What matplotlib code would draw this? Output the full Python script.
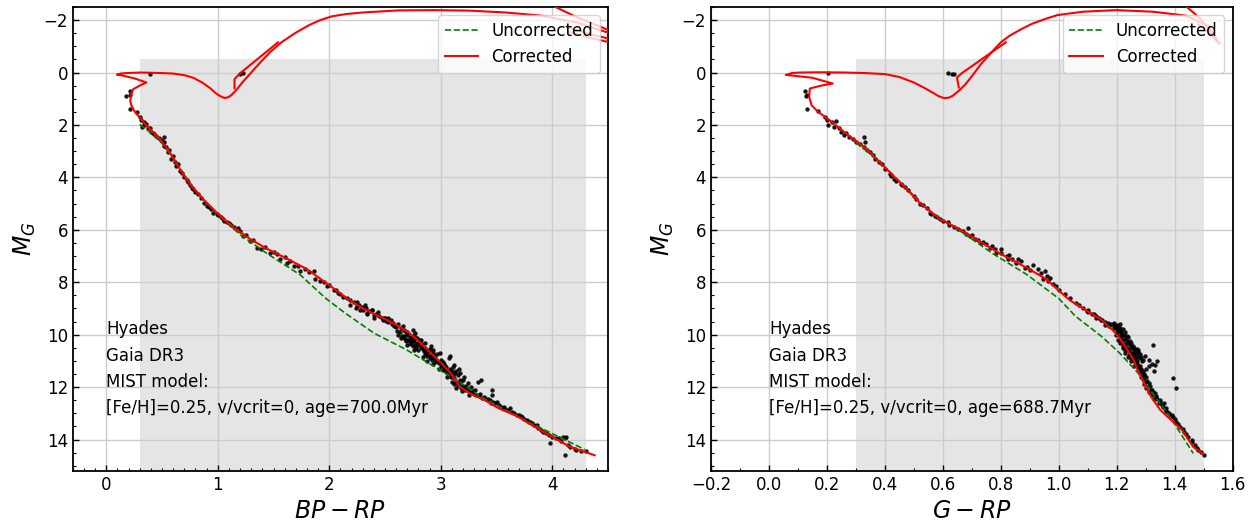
import numpy as np
import matplotlib.pyplot as plt
from matplotlib.ticker import MultipleLocator

# ---------------- left panel: BP-RP ----------------
# corrected isochrone, low mass end -> turnoff -> subgiants -> RGB
bprp_corr_x = [4.38, 4.16, 4.0, 3.84, 3.68, 3.52, 3.39, 3.26, 3.17, 3.1, 3.02, 2.91, 2.82, 2.72,
               2.6, 2.45, 2.3, 2.16, 1.98, 1.8, 1.62, 1.44, 1.29, 1.14, 0.99, 0.87, 0.75, 0.66,
               0.57, 0.48, 0.36, 0.27, 0.245, 0.225, 0.216, 0.22, 0.24, 0.3, 0.36, 0.25, 0.15,
               0.096, 0.13, 0.18, 0.3, 0.39, 0.5, 0.6, 0.7, 0.78, 0.86, 0.93, 0.98, 1.02, 1.06,
               1.09, 1.12, 1.17, 1.22, 1.3, 1.38, 1.47, 1.57, 1.7, 1.82, 1.92, 2.02, 2.15, 2.3,
               2.62, 2.94, 3.26, 3.58, 3.9, 4.22, 4.55]
bprp_corr_y = [14.6, 14.28, 13.9, 13.51, 13.1, 12.81, 12.49, 12.24, 11.98, 11.53, 11.15, 10.7, 10.32, 9.94,
               9.62, 9.3, 9.0, 8.62, 8.05, 7.5, 7.1, 6.72, 6.35, 5.9, 5.34, 4.83, 4.25, 3.68,
               3.04, 2.53, 2.02, 1.57, 1.42, 1.25, 1.1, 0.93, 0.64, 0.5, 0.38, 0.22, 0.12,
               0.08, 0.04, 0.02, 0.0, 0.01, 0.02, 0.04, 0.1, 0.2, 0.38, 0.59, 0.78, 0.9, 0.97,
               0.95, 0.87, 0.65, 0.38, 0.0, -0.38, -0.78, -1.15, -1.52, -1.81, -2.0, -2.14, -2.23, -2.29,
               -2.37, -2.38, -2.36, -2.29, -2.17, -1.91, -1.45]
bprp_clump_x = [1.15, 1.15, 1.2, 1.54]
bprp_clump_y = [0.6, 0.25, 0.03, -1.15]
bprp_agb1_x = [3.98, 4.19, 4.48, 4.55]
bprp_agb1_y = [-2.6, -2.17, -1.66, -1.55]
bprp_agb2_x = [4.12, 4.35, 4.55]
bprp_agb2_y = [-1.75, -1.45, -1.25]
bprp_agb3_x = [4.15, 4.38, 4.55]
bprp_agb3_y = [-1.55, -1.28, -1.12]

bprp_unc_x = [0.3, 0.4, 0.5, 0.6, 0.7, 0.8, 0.9, 1.0, 1.1, 1.2, 1.44, 1.74, 1.97, 2.14, 2.4,
              2.69, 2.94, 3.14, 3.36, 3.58, 3.81, 4.06, 4.29]
bprp_unc_y = [1.98, 2.3, 2.7, 3.25, 3.95, 4.5, 4.98, 5.4, 5.8, 6.18, 6.9, 7.72, 8.62, 9.17, 9.94,
              10.57, 11.21, 11.72, 12.36, 12.87, 13.38, 13.9, 14.38]

bprp_stars = [
    (0.39, 0.04), (1.2, 0.04), (1.23, 0.0), (0.174, 0.91), (0.21, 0.72), (0.216, 0.84),
    (0.216, 1.4), (0.275, 1.51), (0.305, 1.7), (0.31, 1.83), (0.335, 1.89), (0.36, 1.95),
    (0.32, 2.08), (0.39, 2.12), (0.4, 2.25), (0.43, 2.34), (0.49, 2.59), (0.52, 2.47),
    (0.52, 2.66), (0.52, 2.81), (0.55, 3.04), (0.58, 3.3), (0.63, 3.55), (0.66, 3.74),
    (0.7, 4.0), (0.73, 4.19), (0.78, 4.44), (0.8, 4.57), (0.88, 4.96), (0.9, 5.08),
    (0.96, 5.34), (0.99, 5.4), (1.03, 5.53), (1.06, 5.66), (1.08, 5.72), (1.18, 5.95),
    (1.23, 6.23), (1.29, 6.42), (1.35, 6.68), (1.39, 6.74), (1.47, 6.87), (1.56, 7.13),
    (1.62, 7.25), (1.68, 7.38), (1.74, 7.57), (1.86, 7.57), (1.87, 7.89), (1.92, 7.96),
    (1.98, 8.15), (2.04, 8.28), (2.08, 8.4), (2.19, 8.66), (2.25, 8.91), (2.28, 9.04),
    (2.34, 9.17), (2.38, 9.04), (2.49, 9.36), (2.53, 9.36),
    (2.19, 8.85), (2.24, 8.98), (2.3, 9.04), (2.38, 9.04), (2.34, 9.23), (2.4, 9.36),
    (2.48, 9.43), (2.51, 9.49), (2.58, 9.68), (2.61, 9.87), (2.66, 9.68), (2.67, 9.81),
    (2.7, 9.94), (2.75, 9.81), (2.77, 9.94), (2.67, 10.06), (2.69, 10.19), (2.74, 10.26),
    (2.78, 10.13), (2.8, 10.32), (2.75, 10.45), (2.83, 10.51), (2.85, 10.64), (2.88, 10.57),
    (2.91, 10.45), (2.93, 10.7), (2.94, 10.83), (2.96, 10.96), (2.9, 10.89), (2.98, 11.09),
    (3.01, 11.15), (3.04, 11.21), (3.07, 10.89), (3.08, 10.83), (3.02, 11.34), (3.06, 11.47),
    (3.09, 11.6), (3.12, 11.15), (3.14, 11.4), (3.17, 11.72), (3.17, 11.47), (3.2, 11.72),
    (3.1, 11.79), (3.15, 11.92), (3.18, 12.04), (3.22, 12.11), (3.26, 12.17), (3.31, 12.11),
    (3.33, 11.79), (3.36, 11.72), (3.34, 12.3), (3.39, 12.36), (3.44, 12.49), (3.46, 12.11),
    (3.46, 12.3), (3.49, 12.62), (3.55, 12.81), (3.6, 12.87), (3.62, 12.81), (3.68, 13.07),
    (3.73, 13.13), (3.79, 13.32), (3.84, 13.45), (3.9, 13.64), (3.94, 13.77), (3.98, 14.15),
    (4.0, 13.9), (4.06, 13.96), (4.1, 13.9), (4.11, 13.96), (4.12, 13.9), (4.11, 14.6),
    (4.16, 14.28), (4.21, 14.41), (4.26, 14.43),
    (2.22, 8.75), (2.27, 8.85), (2.33, 9.0), (2.36, 9.1), (2.42, 9.2), (2.45, 9.28),
    (2.5, 9.38), (2.55, 9.45), (2.57, 9.55), (2.62, 9.6), (2.64, 9.75), (2.68, 9.85),
    (2.7, 10.0), (2.72, 10.08), (2.73, 10.2), (2.76, 10.18), (2.78, 10.3), (2.8, 10.4),
    (2.82, 10.48), (2.84, 10.55), (2.86, 10.5), (2.87, 10.7), (2.89, 10.62), (2.9, 10.78),
    (2.92, 10.85), (2.95, 10.9), (2.97, 11.0), (2.99, 11.05), (3.0, 11.2), (3.03, 11.3),
    (3.05, 11.25), (3.07, 11.4), (3.08, 11.5), (3.11, 11.55), (3.12, 11.65), (3.14, 11.8),
    (3.16, 11.85), (3.19, 11.95), (3.21, 12.0), (3.24, 12.08), (3.28, 12.2), (3.3, 12.25),
    (3.32, 12.3), (3.37, 12.4), (3.42, 12.45), (3.47, 12.55), (3.52, 12.7), (3.57, 12.75),
    (3.64, 12.95), (3.7, 13.05), (3.75, 13.2), (3.82, 13.38), (3.87, 13.55), (3.92, 13.7),
    (3.97, 13.82), (4.03, 13.95), (4.08, 14.05), (4.14, 14.2), (4.2, 14.35), (4.3, 14.45),
    (2.65, 10.05), (2.66, 10.1), (2.68, 10.15), (2.71, 10.22), (2.74, 10.1), (2.76, 10.02),
    (2.79, 10.12), (2.81, 10.22), (2.83, 10.35), (2.69, 10.25), (2.73, 10.35), (2.77, 10.4),
    (1.1, 5.75), (1.15, 5.9), (1.2, 6.05), (1.25, 6.2), (1.32, 6.4), (1.42, 6.65),
    (1.5, 6.85), (1.53, 6.92), (1.6, 7.05), (1.65, 7.2), (1.72, 7.38), (1.78, 7.48),
    (1.82, 7.6), (1.95, 8.0), (2.0, 8.12), (2.06, 8.3), (2.1, 8.45), (2.12, 8.55), (2.16, 8.62),
    (0.34, 2.0), (0.37, 2.1), (0.42, 2.3), (0.45, 2.42), (0.47, 2.5), (0.5, 2.62),
    (0.54, 2.85), (0.56, 2.95), (0.6, 3.2), (0.62, 3.4), (0.64, 3.5), (0.68, 3.85),
    (0.72, 4.1), (0.75, 4.3), (0.77, 4.4), (0.82, 4.65), (0.85, 4.8), (0.92, 5.12),
    (0.94, 5.2), (1.0, 5.45), (1.05, 5.6), (1.12, 5.8),
    (2.6, 9.7), (2.63, 9.9), (2.7, 9.9), (2.72, 10.3), (2.75, 10.25), (2.78, 10.5),
    (2.8, 10.6), (2.82, 10.2), (2.86, 10.75), (2.88, 10.8), (2.9, 10.55), (2.92, 10.95),
    (2.95, 11.05), (2.97, 10.75), (3.0, 10.95), (3.03, 11.1), (3.05, 11.4), (3.06, 11.6),
    (3.08, 11.3), (3.1, 11.4), (3.12, 11.9), (3.13, 11.45), (3.15, 11.55), (3.18, 11.75),
    (3.2, 12.05), (3.23, 11.95), (3.25, 12.3), (3.27, 12.0), (3.29, 12.15), (3.35, 12.25),
    (3.4, 12.4), (3.45, 12.6), (3.5, 12.55), (3.54, 12.75), (3.58, 12.85), (3.66, 13.0),
    (3.72, 13.1), (3.77, 13.25), (3.8, 13.35), (3.86, 13.45),
    (2.25, 8.75), (2.29, 8.95), (2.32, 8.88), (2.4, 9.25), (2.44, 9.15), (2.47, 9.35),
    (2.53, 9.5), (2.56, 9.6),
    (2.62, 10.0), (2.64, 10.12), (2.7, 10.4), (2.76, 10.6), (2.84, 10.85), (2.88, 11.0),
    (2.93, 11.1), (2.98, 11.3), (3.02, 11.05), (3.11, 11.25), (3.16, 11.3), (3.21, 11.6),
    (3.24, 11.85), (3.19, 12.15), (3.14, 12.05), (2.86, 10.3), (2.93, 10.6), (2.99, 10.7),
]

# ---------------- right panel: G-RP ----------------
grp_corr_x = [1.496, 1.464, 1.445, 1.426, 1.388, 1.35, 1.318, 1.3, 1.274, 1.255, 1.229, 1.21, 1.19,
              1.147, 1.084, 1.04, 1.0, 0.957, 0.889, 0.797, 0.728, 0.659, 0.59, 0.52, 0.452, 0.394,
              0.337, 0.268, 0.21, 0.17, 0.147, 0.139, 0.141, 0.18, 0.22, 0.15, 0.058, 0.08, 0.108,
              0.18, 0.26, 0.33, 0.4, 0.45, 0.5, 0.535, 0.564, 0.585, 0.605, 0.62, 0.634, 0.655,
              0.678, 0.703, 0.73, 0.767, 0.8, 0.83, 0.87, 0.906, 0.95, 0.995, 1.084, 1.198,
              1.324, 1.439, 1.515, 1.555]
grp_corr_y = [14.53, 14.28, 13.96, 13.64, 13.26, 12.87, 12.36, 11.98, 11.4, 10.9, 10.45, 10.13, 9.87,
              9.43, 9.0, 8.7, 8.32, 7.88, 7.45, 6.9, 6.45, 5.98, 5.59, 4.96, 4.19, 3.55,
              2.91, 2.34, 1.83, 1.5, 1.25, 0.93, 0.61, 0.5, 0.42, 0.2, 0.09, 0.02, 0.0,
              -0.01, 0.0, 0.02, 0.06, 0.17, 0.38, 0.58, 0.76, 0.9, 0.98, 0.96, 0.89, 0.7,
              0.45, 0.1, -0.3, -0.76, -1.15, -1.4, -1.65, -1.85, -2.03, -2.19, -2.32, -2.38,
              -2.32, -2.17, -1.78, -1.1]
grp_clump_x = [0.655, 0.649, 0.665, 0.817]
grp_clump_y = [0.57, 0.19, 0.03, -1.15]
grp_agb1_x = [1.432, 1.49, 1.545]
grp_agb1_y = [-2.6, -2.04, -1.2]
grp_agb2_x = [1.48, 1.52, 1.55]
grp_agb2_y = [-1.85, -1.5, -1.15]

grp_unc_x = [0.3, 0.35, 0.4, 0.45, 0.5, 0.55, 0.6, 0.65, 0.7, 0.774, 0.889, 1.0, 1.058, 1.147,
             1.21, 1.274, 1.324, 1.375, 1.413, 1.464]
grp_unc_y = [2.68, 3.1, 3.6, 4.15, 4.7, 5.25, 5.62, 5.98, 6.35, 6.92, 7.7, 8.62, 9.3, 10.06,
             10.7, 11.47, 12.24, 13.0, 13.64, 14.53]

grp_stars = [
    (0.205, 0.0), (0.618, 0.0), (0.633, 0.05), (0.64, 0.04), (0.124, 0.7), (0.13, 0.84),
    (0.128, 0.91), (0.133, 1.38), (0.17, 1.48), (0.193, 1.7), (0.199, 1.83), (0.205, 2.02),
    (0.216, 1.89), (0.233, 1.86), (0.224, 2.08), (0.243, 2.12), (0.25, 2.25), (0.266, 2.3),
    (0.277, 2.47), (0.302, 2.66), (0.314, 2.72), (0.328, 2.47), (0.331, 2.66), (0.328, 2.85),
    (0.348, 3.04), (0.366, 3.3), (0.4, 3.68), (0.417, 3.87), (0.44, 4.13), (0.457, 4.25),
    (0.469, 4.38), (0.509, 4.83), (0.52, 5.02), (0.544, 5.15), (0.555, 5.34), (0.572, 5.47),
    (0.59, 5.57), (0.618, 5.72), (0.653, 5.98), (0.687, 5.95), (0.693, 6.23), (0.71, 6.36),
    (0.733, 6.49), (0.762, 6.68), (0.785, 6.87), (0.802, 6.87), (0.825, 7.13), (0.854, 7.25),
    (0.883, 7.45), (0.9, 7.54), (0.952, 7.57), (0.946, 7.89), (0.963, 7.96), (0.98, 8.08),
    (1.058, 8.79), (1.084, 8.98), (1.096, 9.11), (1.115, 9.23), (1.128, 9.36), (1.147, 9.43),
    (1.16, 9.62), (1.172, 9.68), (1.191, 9.68), (1.204, 9.81), (1.21, 9.74), (1.198, 10.0),
    (1.204, 10.19), (1.217, 10.0), (1.21, 10.32), (1.223, 10.45), (1.229, 10.57), (1.236, 10.26),
    (1.242, 10.77), (1.248, 10.89), (1.261, 10.7), (1.261, 11.02), (1.274, 10.57), (1.274, 11.21),
    (1.28, 11.34), (1.286, 11.02), (1.293, 11.53), (1.299, 10.83), (1.312, 10.96), (1.324, 10.38),
    (1.331, 11.15), (1.299, 11.79), (1.305, 11.98), (1.318, 12.11), (1.331, 12.24), (1.337, 12.36),
    (1.35, 12.49), (1.362, 12.62), (1.394, 11.66), (1.406, 12.04), (1.369, 12.81), (1.381, 13.0),
    (1.394, 13.13), (1.406, 13.32), (1.42, 13.51), (1.432, 13.7), (1.445, 13.9), (1.458, 14.02),
    (1.477, 14.34), (1.49, 14.47), (1.5, 14.6),
    (1.0, 8.3), (1.02, 8.45), (1.04, 8.6), (1.07, 8.85), (1.1, 9.05), (1.12, 9.2),
    (1.14, 9.35), (1.16, 9.5), (1.18, 9.6), (1.19, 9.75), (1.2, 9.9), (1.21, 10.05),
    (1.215, 10.1), (1.22, 10.2), (1.225, 10.35), (1.23, 10.4), (1.235, 10.5), (1.24, 10.6),
    (1.245, 10.65), (1.25, 10.75), (1.255, 10.85), (1.26, 10.95), (1.265, 11.05), (1.27, 11.1),
    (1.272, 11.25), (1.28, 11.45), (1.285, 11.6), (1.29, 11.7), (1.295, 11.9), (1.3, 12.05),
    (1.31, 12.2), (1.32, 12.3), (1.33, 12.45), (1.345, 12.6), (1.36, 12.75), (1.37, 12.9),
    (1.39, 13.05), (1.4, 13.2), (1.41, 13.4), (1.43, 13.6), (1.44, 13.8), (1.46, 14.1),
    (1.47, 14.2), (1.48, 14.4),
    (1.195, 9.7), (1.2, 9.78), (1.205, 9.72), (1.21, 9.85), (1.2, 9.95), (1.215, 9.9),
    (1.225, 10.0), (1.23, 10.15), (1.24, 10.3), (1.245, 10.4), (1.25, 10.5), (1.26, 10.6),
    (1.265, 10.7), (1.275, 10.8), (1.28, 10.9),
    (0.62, 5.8), (0.67, 6.05), (0.7, 6.2), (0.74, 6.45), (0.77, 6.6), (0.8, 6.75),
    (0.83, 6.95), (0.86, 7.1), (0.87, 7.2), (0.91, 7.35), (0.93, 7.5), (0.96, 7.75),
    (0.97, 7.85), (0.99, 8.15),
    (0.26, 2.4), (0.29, 2.55), (0.34, 2.95), (0.36, 3.15), (0.38, 3.4), (0.39, 3.5),
    (0.42, 3.95), (0.43, 4.05), (0.46, 4.3), (0.48, 4.5), (0.5, 4.7), (0.53, 5.05),
    (0.56, 5.4), (0.58, 5.5), (0.6, 5.65), (0.64, 5.9), (0.68, 6.15), (0.72, 6.4),
    (0.75, 6.55), (0.78, 6.75), (0.82, 7.0), (0.84, 7.1), (0.89, 7.4), (0.94, 7.65),
    (1.21, 9.6), (1.22, 9.8), (1.23, 9.9), (1.235, 10.05), (1.24, 10.1), (1.245, 10.25),
    (1.25, 10.3), (1.255, 10.45), (1.26, 10.5), (1.27, 10.55), (1.275, 10.65), (1.28, 10.75),
    (1.285, 10.85), (1.29, 10.95), (1.255, 10.7), (1.26, 10.8), (1.265, 10.9), (1.27, 11.0),
    (1.275, 11.15), (1.28, 11.2), (1.285, 11.3), (1.29, 11.4), (1.295, 11.5), (1.3, 11.6),
    (1.305, 11.75), (1.31, 11.85), (1.315, 11.95), (1.32, 12.1), (1.325, 12.2), (1.335, 12.35),
    (1.34, 12.45), (1.35, 12.55), (1.355, 12.7), (1.365, 12.85), (1.375, 12.95), (1.385, 13.1),
    (1.3, 11.3), (1.31, 11.2), (1.32, 11.1), (1.33, 11.4), (1.34, 11.0), (1.22, 10.5),
    (1.23, 10.7), (1.24, 10.85), (1.25, 11.0), (1.26, 11.2),
    (1.1, 9.15), (1.13, 9.3), (1.15, 9.45), (1.17, 9.55), (1.19, 9.55), (1.2, 9.65),
]

info_lines_left = ["Hyades", "Gaia DR3", "MIST model:", "[Fe/H]=0.25, v/vcrit=0, age=700.0Myr"]
info_lines_right = ["Hyades", "Gaia DR3", "MIST model:", "[Fe/H]=0.25, v/vcrit=0, age=688.7Myr"]


def draw_panel(ax, corr, extra, unc, stars, span, xlim, xlabel, info):
    ax.fill_between(span, -0.5, 16, color="gray", alpha=0.2, lw=0, zorder=0)
    sx = [p[0] for p in stars]
    sy = [p[1] for p in stars]
    ax.scatter(sx, sy, s=10, c="k", alpha=0.9, lw=0, zorder=2)
    ax.plot(unc[0], unc[1], "--", color="green", lw=1.2, label="Uncorrected", zorder=3)
    ax.plot(corr[0], corr[1], "-", color="red", lw=1.5, label="Corrected", zorder=4)
    for ex, ey in extra:
        ax.plot(ex, ey, "-", color="red", lw=1.5, zorder=4)
    ax.set_xlim(*xlim)
    ax.set_ylim(15.2, -2.5)
    ax.grid(True, color="#cccccc", lw=1)
    ax.set_axisbelow(True)
    ax.yaxis.set_major_locator(MultipleLocator(2))
    ax.yaxis.set_minor_locator(MultipleLocator(0.5))
    ax.xaxis.set_minor_locator(MultipleLocator(0.1))
    ax.tick_params(which="both", direction="in", labelsize=12)
    ax.tick_params(which="major", length=4.5, width=1)
    ax.tick_params(which="minor", length=2.5, width=0.8)
    for sp in ax.spines.values():
        sp.set_linewidth(1.3)
    ax.set_xlabel(xlabel, fontsize=17)
    ax.set_ylabel("$M_G$", fontsize=17)
    for i, line in enumerate(info):
        ax.text(0.0, 9.8 + i, line, fontsize=12, va="center", ha="left")
    ax.legend(loc="upper right", fontsize=12)


fig = plt.figure(figsize=(12.55, 5.21), dpi=100)
ax1 = fig.add_axes([0.058, 0.096, 0.4265, 0.8906])
ax2 = fig.add_axes([0.5665, 0.096, 0.4157, 0.8906])

draw_panel(ax1, (bprp_corr_x, bprp_corr_y),
           [(bprp_clump_x, bprp_clump_y), (bprp_agb1_x, bprp_agb1_y),
            (bprp_agb2_x, bprp_agb2_y), (bprp_agb3_x, bprp_agb3_y)],
           (bprp_unc_x, bprp_unc_y), bprp_stars,
           [0.3, 4.3], (-0.3, 4.5), "$BP-RP$", info_lines_left)
draw_panel(ax2, (grp_corr_x, grp_corr_y),
           [(grp_clump_x, grp_clump_y), (grp_agb1_x, grp_agb1_y), (grp_agb2_x, grp_agb2_y)],
           (grp_unc_x, grp_unc_y), grp_stars,
           [0.3, 1.5], (-0.2, 1.6), "$G-RP$", info_lines_right)

plt.savefig("out.png", dpi=100)
